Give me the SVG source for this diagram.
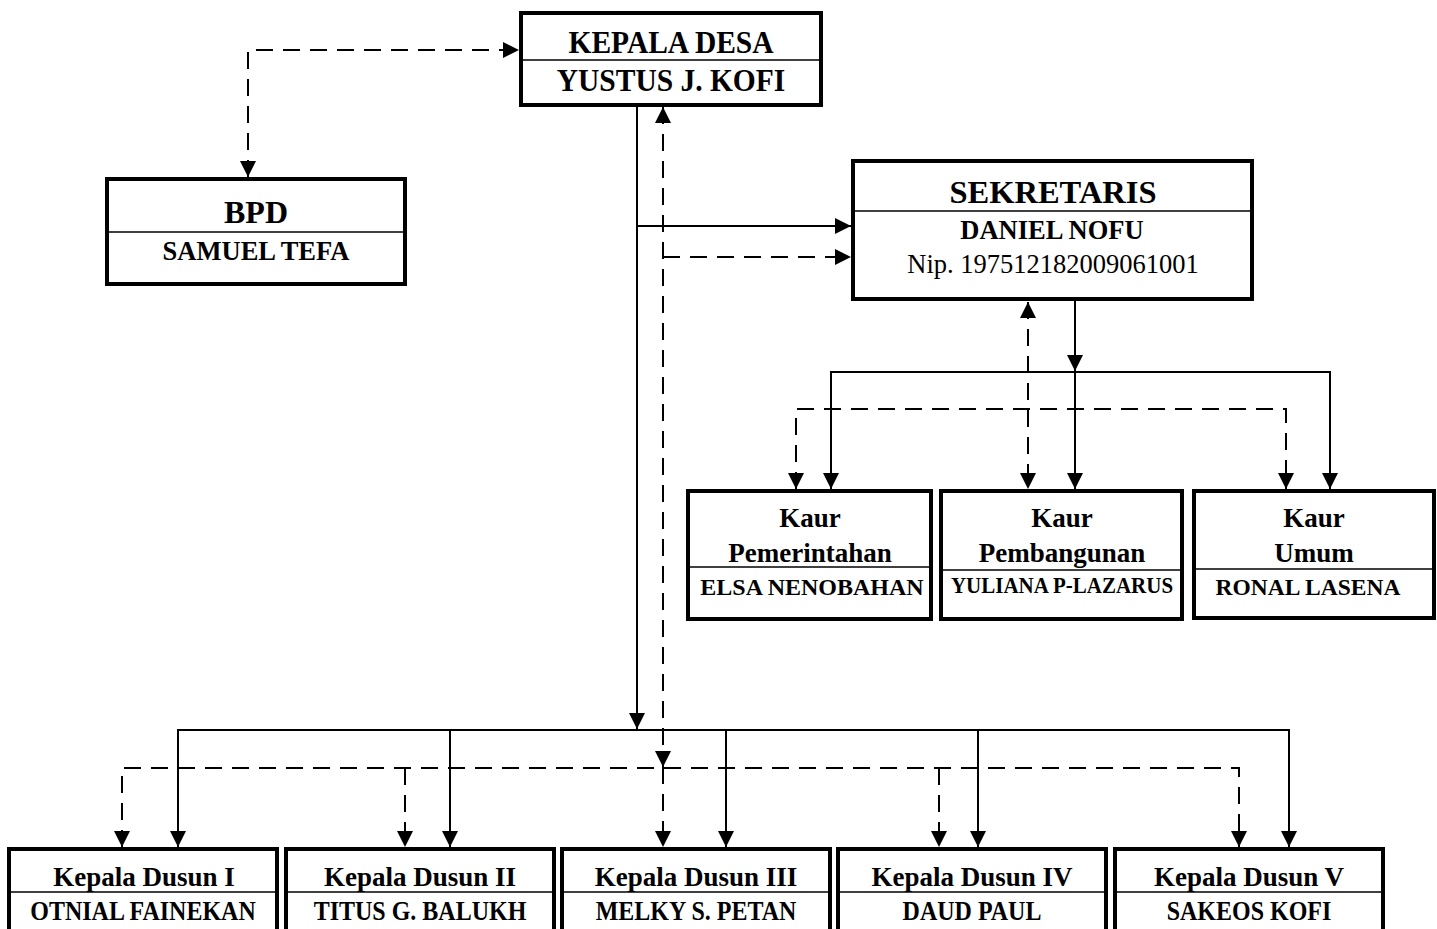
<svg xmlns="http://www.w3.org/2000/svg" width="1437" height="929" viewBox="0 0 1437 929">
<style>
.box{fill:#fff;stroke:#000;stroke-width:4}
.div{stroke:#000;stroke-width:1.6;fill:none}
.t{font-family:"Liberation Serif","Times New Roman",serif;font-weight:bold;text-anchor:middle;fill:#000}
.r{font-family:"Liberation Serif","Times New Roman",serif;text-anchor:middle;fill:#000}
.s{fill:none;stroke:#000;stroke-width:2}
.d{fill:none;stroke:#000;stroke-width:2;stroke-dasharray:17 10}
.a{marker-end:url(#ah)}
.aa{marker-start:url(#ah);marker-end:url(#ah)}
</style>
<defs>
<marker id="ah" markerUnits="userSpaceOnUse" markerWidth="16" markerHeight="16" refX="16" refY="8" orient="auto-start-reverse" viewBox="0 0 16 16">
<path d="M0,0 L16,8 L0,16 z" fill="#000"/>
</marker>
</defs>
<rect width="1437" height="929" fill="#fff"/>
<g id="connectors">
<path class="d aa" d="M248,177 L248,50 L519,50"/>
<path class="s a" d="M637,107 L637,729"/>
<path class="s a" d="M637,226 L851,226"/>
<path class="d aa" d="M663,107 L663,767"/>
<path class="d a" d="M663,767 L663,847"/>
<path class="d a" d="M663,257 L851,257"/>
<path class="s aa" d="M178,847 L178,730 L1289,730 L1289,847"/>
<path class="s a" d="M450,730 L450,847"/>
<path class="s a" d="M726,730 L726,847"/>
<path class="s a" d="M978,730 L978,847"/>
<path class="d aa" d="M122,847 L122,768 L1239,768 L1239,847"/>
<path class="d a" d="M405,768 L405,847"/>
<path class="d a" d="M939,768 L939,847"/>
<path class="s a" d="M1075,301 L1075,371"/>
<path class="s aa" d="M831,489 L831,372 L1330,372 L1330,489"/>
<path class="s a" d="M1075,372 L1075,489"/>
<path class="d aa" d="M1028,302 L1028,489"/>
<path class="d aa" d="M796,489 L796,409 L1286,409 L1286,489"/>
</g>
<g id="kepala-desa">
<rect class="box" x="521" y="13" width="300" height="92"/>
<line class="div" x1="521" y1="60" x2="821" y2="60"/>
<text class="t" font-size="29.5" transform="translate(671,53) scale(1,1.07)">KEPALA DESA</text>
<text class="t" font-size="29.5" transform="translate(671,91) scale(1,1.07)">YUSTUS J. KOFI</text>
</g>
<g id="bpd">
<rect class="box" x="107" y="179" width="298" height="105"/>
<line class="div" x1="107" y1="232" x2="405" y2="232"/>
<text class="t" x="256" y="223" font-size="32">BPD</text>
<text class="t" x="256" y="260" font-size="26.5">SAMUEL TEFA</text>
</g>
<g id="sekretaris">
<rect class="box" x="853" y="161" width="399" height="138"/>
<line class="div" x1="853" y1="211" x2="1252" y2="211"/>
<text class="t" x="1053" y="203" font-size="32.5">SEKRETARIS</text>
<text class="t" x="1052" y="239" font-size="26.5">DANIEL NOFU</text>
<text class="r" x="1053" y="273" font-size="26.5">Nip. 197512182009061001</text>
</g>
<g id="kaur-pemerintahan">
<rect class="box" x="688" y="491" width="243" height="128"/>
<line class="div" x1="688" y1="567" x2="931" y2="567"/>
<text class="t" x="810" y="527" font-size="27">Kaur</text>
<text class="t" x="810" y="562" font-size="27">Pemerintahan</text>
<text class="t" x="812" y="595" font-size="24">ELSA NENOBAHAN</text>
</g>
<g id="kaur-pembangunan">
<rect class="box" x="941" y="491" width="241" height="128"/>
<line class="div" x1="941" y1="570" x2="1182" y2="570"/>
<text class="t" x="1062" y="527" font-size="27">Kaur</text>
<text class="t" x="1062" y="562" font-size="27">Pembangunan</text>
<text class="t" font-size="21" transform="translate(1062,593) scale(1,1.12)">YULIANA P-LAZARUS</text>
</g>
<g id="kaur-umum">
<rect class="box" x="1194" y="491" width="240" height="127"/>
<line class="div" x1="1194" y1="569" x2="1434" y2="569"/>
<text class="t" x="1314" y="527" font-size="27">Kaur</text>
<text class="t" x="1314" y="562" font-size="27">Umum</text>
<text class="t" x="1308" y="595" font-size="23.5">RONAL LASENA</text>
</g>
<g id="kepala-dusun-1">
<rect class="box" x="9" y="849" width="268" height="90"/>
<line class="div" x1="9" y1="892" x2="277" y2="892"/>
<text class="t" x="144" y="886" font-size="27">Kepala Dusun I</text>
<text class="t" font-size="24" transform="translate(143,920) scale(1,1.12)">OTNIAL FAINEKAN</text>
</g>
<g id="kepala-dusun-2">
<rect class="box" x="286" y="849" width="268" height="90"/>
<line class="div" x1="286" y1="892" x2="554" y2="892"/>
<text class="t" x="420" y="886" font-size="27">Kepala Dusun II</text>
<text class="t" font-size="24" transform="translate(420,920) scale(1,1.12)">TITUS G. BALUKH</text>
</g>
<g id="kepala-dusun-3">
<rect class="box" x="562" y="849" width="268" height="90"/>
<line class="div" x1="562" y1="892" x2="830" y2="892"/>
<text class="t" x="696" y="886" font-size="27">Kepala Dusun III</text>
<text class="t" font-size="24" transform="translate(696,920) scale(1,1.12)">MELKY S. PETAN</text>
</g>
<g id="kepala-dusun-4">
<rect class="box" x="838" y="849" width="268" height="90"/>
<line class="div" x1="838" y1="892" x2="1106" y2="892"/>
<text class="t" x="972" y="886" font-size="27">Kepala Dusun IV</text>
<text class="t" font-size="24" transform="translate(972,920) scale(1,1.12)">DAUD PAUL</text>
</g>
<g id="kepala-dusun-5">
<rect class="box" x="1115" y="849" width="268" height="90"/>
<line class="div" x1="1115" y1="892" x2="1383" y2="892"/>
<text class="t" x="1249" y="886" font-size="27">Kepala Dusun V</text>
<text class="t" font-size="24" transform="translate(1249,920) scale(1,1.12)">SAKEOS KOFI</text>
</g>
</svg>
